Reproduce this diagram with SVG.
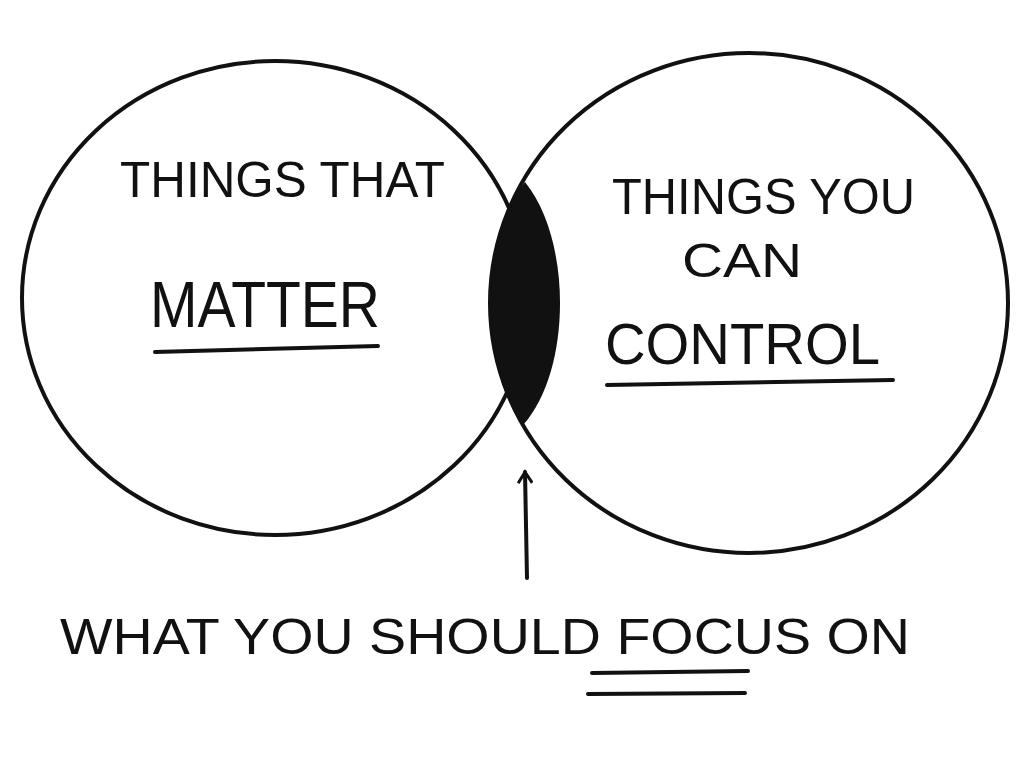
<svg xmlns="http://www.w3.org/2000/svg" width="1024" height="766" viewBox="0 0 1024 766">
<style>
.c{fill:none;stroke:#111;stroke-width:4}
.t{font-family:"Liberation Sans",Arial,sans-serif;fill:#111;font-weight:normal}
.u{stroke:#111;stroke-width:4;stroke-linecap:round;fill:none}
</style>
<defs><marker id="ah" markerWidth="16" markerHeight="16" refX="13" refY="8" orient="auto" markerUnits="userSpaceOnUse"><path d="M2,1 L13,8 L2,15" fill="none" stroke="#111" stroke-width="3"/></marker></defs>
<rect width="1024" height="766" fill="#fff"/>
<g id="left"><ellipse class="c" cx="275" cy="298" rx="253" ry="237"/>
<text class="t" x="120" y="197" font-size="50" textLength="325" lengthAdjust="spacingAndGlyphs">THINGS THAT</text>
<text class="t" x="150" y="327" font-size="64" textLength="230" lengthAdjust="spacingAndGlyphs">MATTER</text>
<path class="u" d="M155 352 L378 346"/></g>
<g id="right"><ellipse class="c" cx="749" cy="303" rx="259" ry="250"/>
<text class="t" x="612" y="214" font-size="50" textLength="303" lengthAdjust="spacingAndGlyphs">THINGS YOU</text>
<text class="t" x="682" y="277" font-size="48" textLength="120" lengthAdjust="spacingAndGlyphs">CAN</text>
<text class="t" x="605" y="364" font-size="58" textLength="275" lengthAdjust="spacingAndGlyphs">CONTROL</text>
<path class="u" d="M607 385 L893 380"/></g>
<g id="focus"><path d="M525 182 C572 240 572 370 523 425 C480 370 480 240 525 182 Z" fill="#111"/></g>
<g id="connectors"><path class="u" d="M527 578 L525 472" marker-end="url(#ah)"/></g>
<g id="label"><text class="t" x="60" y="654" font-size="50" textLength="850" lengthAdjust="spacingAndGlyphs">WHAT YOU SHOULD FOCUS ON</text>
<path class="u" d="M592 673 L748 671 M588 694 L745 693"/></g>
</svg>
